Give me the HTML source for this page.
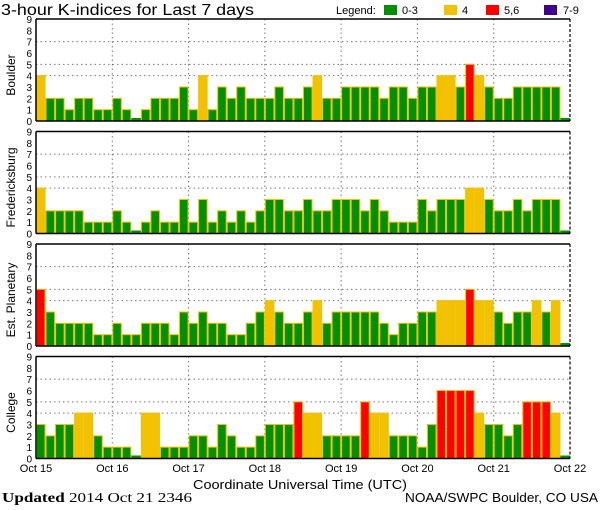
<!DOCTYPE html>
<html><head><meta charset="utf-8"><style>
body{margin:0;background:#fff;width:600px;height:510px;overflow:hidden}
svg{display:block;font-family:"Liberation Sans",sans-serif}
</style></head><body>
<svg id="c" width="600" height="510">
<text x="1" y="15" font-size="16" textLength="253" lengthAdjust="spacingAndGlyphs">3-hour K-indices for Last 7 days</text>
<g font-size="11">
<text x="336" y="14">Legend:</text>
<rect x="384" y="5" width="13" height="10" fill="#009000"/><text x="402" y="14">0-3</text>
<rect x="444" y="5" width="13" height="10" fill="#f2c100"/><text x="462" y="14">4</text>
<rect x="486" y="5" width="13" height="10" fill="#ff0000"/><text x="504" y="14">5,6</text>
<rect x="544" y="5" width="13" height="10" fill="#400090"/><text x="563" y="14">7-9</text>
</g>
<text x="193" y="489" font-size="13" textLength="214" lengthAdjust="spacingAndGlyphs">Coordinate Universal Time (UTC)</text>
<text x="2" y="502" font-size="14" font-family="Liberation Serif" textLength="190" lengthAdjust="spacingAndGlyphs"><tspan font-weight="bold">Updated</tspan> 2014 Oct 21 2346</text>
<text x="405" y="502" font-size="13" textLength="193" lengthAdjust="spacingAndGlyphs">NOAA/SWPC Boulder, CO USA</text>
</svg>
<script>
const stations = ["Boulder","Fredericksburg","Est. Planetary","College"];
const dayLabels = ["Oct 15","Oct 16","Oct 17","Oct 18","Oct 19","Oct 20","Oct 21","Oct 22"];
const yTicks = [0,1,2,3,4,5,6,7,8,9];
const boulder = [4,2,2,1,2,2,1,1, 2,1,0,1,2,2,2,3, 1,4,1,3,2,3,2,2, 2,3,2,2,3,4,2,2, 3,3,3,3,2,3,3,2, 3,3,4,4,3,5,4,3, 2,2,3,3,3,3,3,0];
const fredericksburg = [4,2,2,2,2,1,1,1, 2,1,0,1,2,1,1,3, 1,3,1,2,1,2,1,2, 3,3,2,2,3,2,2,3, 3,3,2,3,2,1,1,1, 3,2,3,3,3,4,4,3, 2,2,3,2,3,3,3,0];
const planetary = [5,3,2,2,2,2,1,1, 2,1,1,2,2,2,1,3, 2,3,2,2,1,1,2,3, 4,3,2,2,3,4,2,3, 3,3,3,3,2,1,2,2, 3,3,4,4,4,5,4,4, 3,2,3,3,4,3,4,0];
const college = [3,2,3,3,4,4,2,1, 1,1,0,4,4,1,1,1, 2,2,1,3,2,1,1,2, 3,3,3,5,4,4,2,2, 2,2,5,4,4,2,2,2, 1,3,6,6,6,6,4,3, 3,2,3,5,5,5,4,0];
const series = [boulder,fredericksburg,planetary,college];

const NS="http://www.w3.org/2000/svg", svg=document.getElementById('c');
const X0=36, X1=570, PH=102, tops=[19,131.5,244,356.5];
const bw=(X1-X0)/56;
const xs=i=>X0+i*bw, xd=d=>X0+d*(X1-X0)/7;
function mk(t,a,p){const e=document.createElementNS(NS,t);for(const k in a)e.setAttribute(k,a[k]);(p||svg).appendChild(e);return e;}
function color(v){return v>=7?'#400090':v>=5?'#ff0000':v==4?'#f2c100':'#009000';}
series.forEach((vals,p)=>{
  const top=tops[p], bot=top+PH, ys=v=>bot-v*(PH/9);
  const g=mk('g',{});
  
  
  [4,5,7].forEach(v=>mk('line',{x1:X0,x2:X1,y1:ys(v),y2:ys(v),stroke:'#777','stroke-dasharray':'1.5,3'},g));
  for(let d=1;d<7;d++) mk('line',{x1:xd(d),x2:xd(d),y1:top,y2:bot,stroke:'#777','stroke-dasharray':'1.5,3'},g);
  vals.forEach((v,i)=>{
    let r;
    if(v===0){
      r=mk('rect',{x:xs(i),y:bot-3,width:bw,height:3,fill:'#009000'},g);
    } else {
      const h=v*(PH/9);
      r=mk('rect',{x:xs(i)+0.5,y:bot-h,width:bw-1,height:h,fill:color(v),stroke:'#f2c100','stroke-width':1},g);
    }
    
    
  });
  yTicks.forEach(v=>{const t=mk('text',{x:32,y:ys(v)+4,'font-size':10,'text-anchor':'end'},g);t.textContent=v;});
  mk('line',{x1:X0,x2:X1,y1:top,y2:top,stroke:'#000','stroke-width':1.5},g);
  mk('line',{x1:X0,x2:X1,y1:bot,y2:bot,stroke:'#000','stroke-width':1.5},g);
  mk('line',{x1:X0,x2:X0,y1:top,y2:bot,stroke:'#000','stroke-width':1.5},g);
  mk('line',{x1:X1,x2:X1,y1:top,y2:bot,stroke:'#000','stroke-width':1.2,'stroke-dasharray':'3,2'},g);
  const lab=mk('text',{x:0,y:0,'font-size':12,'text-anchor':'middle',transform:`translate(15,${top+PH/2+5}) rotate(-90)`},g);
  lab.textContent=stations[p];
  
  
});
dayLabels.forEach((l,d)=>{
  const t=mk('text',{x:xd(d),y:472,'font-size':11,'text-anchor':'middle'});
  t.textContent=l;
  
  
});
</script>
</body></html>
